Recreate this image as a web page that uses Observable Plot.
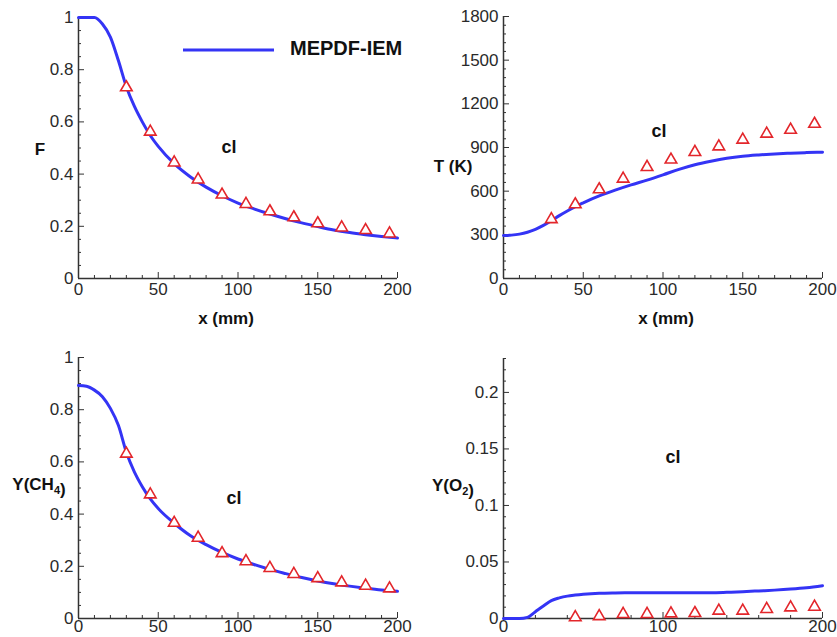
<!DOCTYPE html>
<html>
<head>
<meta charset="utf-8">
<script src="https://cdn.jsdelivr.net/npm/d3@7"></script>
<script src="https://cdn.jsdelivr.net/npm/@observablehq/plot@0.6"></script>
<style>
  html, body { margin: 0; padding: 0; background: #fff; }
  #chart { position: relative; width: 837px; height: 637px; overflow: hidden; font-family: "Liberation Sans", Arial, sans-serif; }
  #chart svg { position: absolute; overflow: visible; }
</style>
</head>
<body>
<div id="chart"></div>
<script>
// ---- data ----
const lineX = [0,5,10,15,20,25,30,35,40,45,50,60,70,80,90,100,110,120,130,140,150,160,170,180,190,200];
const F_line   = [1,1,1,0.975,0.925,0.835,0.735,0.66,0.6,0.548,0.506,0.44,0.39,0.35,0.317,0.289,0.267,0.247,0.229,0.213,0.199,0.186,0.176,0.168,0.161,0.155];
const T_line   = [295,298,305,318,338,365,397,432,464,494,520,567,607,643,676,712,750,782,806,826,840,849,856,861,865,868];
const CH4_line = [0.893,0.89,0.875,0.85,0.805,0.74,0.637,0.562,0.505,0.458,0.421,0.365,0.318,0.283,0.253,0.228,0.207,0.188,0.172,0.157,0.144,0.133,0.124,0.116,0.109,0.104];
const O2_line  = [0,0,0,0.001,0.006,0.011,0.0158,0.0182,0.0198,0.0207,0.0214,0.0223,0.0226,0.0227,0.0227,0.0227,0.0227,0.0227,0.0228,0.0232,0.0237,0.0244,0.0251,0.026,0.0272,0.029];

const triX    = [30,45,60,75,90,105,120,135,150,165,180,195];
const F_tri   = [0.732,0.562,0.444,0.379,0.321,0.285,0.257,0.234,0.211,0.195,0.185,0.172];
const T_tri   = [407,509,612,685,765,816,868,907,953,994,1021,1062];
const CH4_tri = [0.631,0.475,0.366,0.309,0.250,0.219,0.193,0.170,0.154,0.138,0.125,0.115];
const O2_triX = [45,60,75,90,105,120,135,150,165,180,195];
const O2_tri  = [0.001,0.002,0.0039,0.0039,0.0044,0.0047,0.0068,0.0068,0.0083,0.0097,0.0103];

const xMajor50  = [0,50,100,150,200];
const xMinor10  = d3.range(0,201,10).filter(v => v % 50);
const xMajor100 = [0,100,200];
const xMinor20  = d3.range(0,201,20).filter(v => v % 100);
const fracMajor = [0,0.2,0.4,0.6,0.8,1];
const fracMinor = d3.range(0,21).map(i => i/20).filter((v,i) => i % 4);
const tMajor    = [0,300,600,900,1200,1500,1800];
const tMinor    = d3.range(0,1801,60).filter(v => v % 300);
const o2Major   = [0,0.05,0.1,0.15,0.2];
const o2Minor   = d3.range(0,24).map(i => i/100).filter(i => Math.round(i*100) % 5);

const seriesName = "MEPDF-IEM";
const annot = "cl";

// ---- helpers ----
const lineColor = "#3434f5";
const triColor = "#e3262b";
const axisColor = "#333";
const FONT = "'Liberation Sans', Arial, sans-serif";

function panel(o) {
  const lineData = lineX.map((x, i) => ({x, y: o.line[i]}));
  const triData = o.triX.map((x, i) => ({x, y: o.tri[i]}));
  const svg = Plot.plot({
    width: o.width, height: o.height,
    marginLeft: o.ml, marginRight: o.mr, marginTop: o.mt, marginBottom: o.mb,
    x: {domain: [0, 200]},
    y: {domain: o.yDomain},
    style: {fontFamily: FONT, fontSize: "17px", color: "#2a2a2a", background: "transparent", overflow: "visible"},
    marks: [
      Plot.ruleX([0], {stroke: axisColor, strokeWidth: 1.5}),
      Plot.ruleY([o.yDomain[0]], {stroke: axisColor, strokeWidth: 1.5}),
      Plot.axisX({ticks: o.xMajor, tickSize: -6, tickPadding: o.xPad, tickFormat: d => String(d), label: null, stroke: axisColor, fontSize: 17}),
      Plot.axisX({ticks: o.xMinor, tickSize: -3, tickFormat: () => "", label: null, stroke: axisColor}),
      Plot.axisY({ticks: o.yMajor, tickSize: -6, tickPadding: 11, tickFormat: d => String(d), label: null, stroke: axisColor, fontSize: 17}),
      Plot.axisY({ticks: o.yMinor, tickSize: -3, tickFormat: () => "", label: null, stroke: axisColor}),
      Plot.line(lineData, {x: "x", y: "y", stroke: lineColor, strokeWidth: 3, curve: "monotone-x"}),
      Plot.dot(triData, {x: "x", y: "y", symbol: "triangle", r: 4.3, stroke: triColor, fill: "white", strokeWidth: 1.6}),
      Plot.text([annot], {text: d => d, frameAnchor: "top-left", dx: o.cl[0], dy: o.cl[1], fontWeight: "bold", fontSize: 18, fill: "#111"})
    ]
  });
  svg.style.left = o.left + "px";
  svg.style.top = o.top + "px";
  const s = d3.select(svg);
  const yl = s.append("text")
    .attr("x", o.yl[0]).attr("y", o.yl[1])
    .attr("text-anchor", "middle").attr("dominant-baseline", "middle")
    .attr("font-weight", "bold").attr("font-size", 17).attr("fill", "#111")
    .attr("font-family", FONT);
  o.ylabel.forEach(part => {
    if (part.sub) {
      yl.append("tspan").attr("dy", 5).attr("font-size", 11).text(part.t);
      yl.append("tspan").attr("dy", -5).text("");
    } else {
      yl.append("tspan").text(part.t);
    }
  });
  if (o.xl) {
    s.append("text")
      .attr("x", o.xl[0]).attr("y", o.xl[1])
      .attr("text-anchor", "middle").attr("dominant-baseline", "middle")
      .attr("font-weight", "bold").attr("font-size", 17).attr("fill", "#111")
      .attr("font-family", FONT)
      .text("x (mm)");
  }
  document.getElementById("chart").appendChild(svg);
  return s;
}

const p1 = panel({left: 0, top: 0, width: 420, height: 320, ml: 78, mr: 23, mt: 17, mb: 42, xPad: 10,
  yDomain: [0, 1], yMajor: fracMajor, yMinor: fracMinor, xMajor: xMajor50, xMinor: xMinor10,
  line: F_line, triX, tri: F_tri, cl: [143, 123], yl: [40, 151], ylabel: [{t: "F"}], xl: [226, 320]});

panel({left: 420, top: 0, width: 417, height: 320, ml: 83, mr: 15, mt: 16, mb: 42, xPad: 10,
  yDomain: [0, 1800], yMajor: tMajor, yMinor: tMinor, xMajor: xMajor50, xMinor: xMinor10,
  line: T_line, triX, tri: T_tri, cl: [148, 108], yl: [33, 168], ylabel: [{t: "T (K)"}], xl: [246, 320]});

panel({left: 0, top: 320, width: 420, height: 317, ml: 78, mr: 23, mt: 37, mb: 19, xPad: 7,
  yDomain: [0, 1], yMajor: fracMajor, yMinor: fracMinor, xMajor: xMajor50, xMinor: xMinor10,
  line: CH4_line, triX, tri: CH4_tri, cl: [148, 134], yl: [39, 166], ylabel: [{t: "Y(CH"}, {t: "4", sub: true}, {t: ")"}]});

panel({left: 420, top: 320, width: 417, height: 317, ml: 83, mr: 15, mt: 38, mb: 19, xPad: 7,
  yDomain: [0, 0.23], yMajor: o2Major, yMinor: o2Minor, xMajor: xMajor100, xMinor: xMinor20,
  line: O2_line, triX: O2_triX, tri: O2_tri, cl: [162, 92], yl: [33, 167], ylabel: [{t: "Y(O"}, {t: "2", sub: true}, {t: ")"}]});

// legend in the first panel
p1.append("line").attr("x1", 183).attr("x2", 274).attr("y1", 50).attr("y2", 50)
  .attr("stroke", lineColor).attr("stroke-width", 3);
p1.append("text").attr("x", 290).attr("y", 50)
  .attr("text-anchor", "start").attr("dominant-baseline", "middle")
  .attr("font-weight", "bold").attr("font-size", 20).attr("fill", "#111")
  .attr("font-family", FONT)
  .text(seriesName);
</script>
</body>
</html>
